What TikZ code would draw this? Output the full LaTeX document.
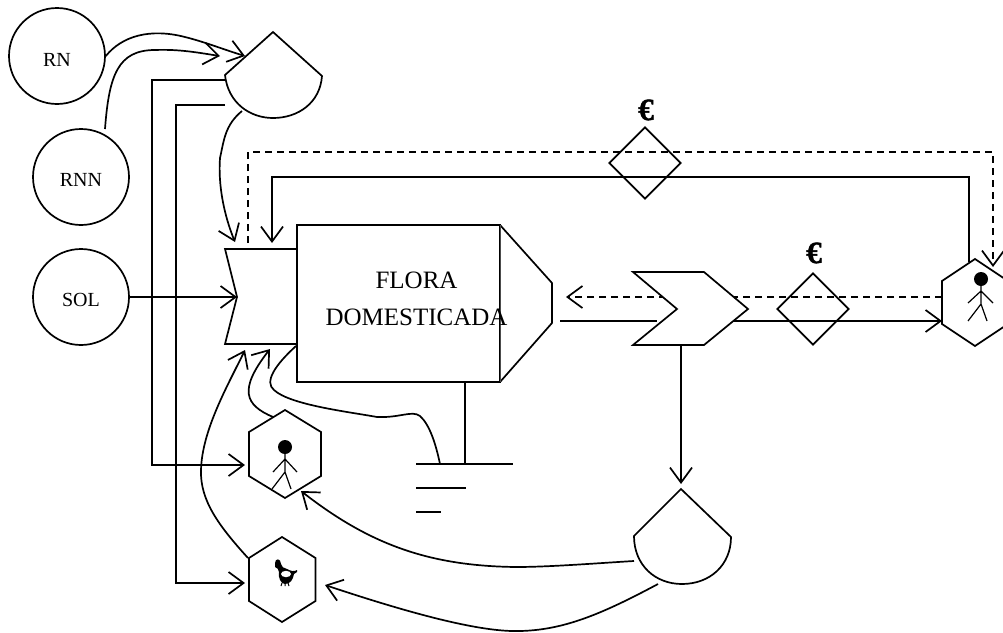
\documentclass[tikz,border=0pt]{standalone}
\usepackage{fontspec}
\setmainfont{Liberation Serif}
\newfontfamily\eurofont[FakeBold=1.2]{Liberation Serif Bold}
\usetikzlibrary{arrows.meta,shapes.geometric}
\tikzset{
  x=1pt,y=-1pt,
  every path/.style={line width=1.7pt,line join=miter},
  circ/.style={circle,draw,line width=1.7pt,minimum size=96pt,inner sep=0pt},
  lab/.style={font=\fontsize{20}{20}\selectfont,inner sep=0pt},
  big/.style={font=\fontsize{25}{25}\selectfont,inner sep=0pt},
  cash/.style={diamond,draw,line width=1.7pt,minimum size=72pt,inner sep=0pt,aspect=1},
  euro/.style={font=\fontsize{31}{31}\eurofont,inner sep=0pt},
  conn/.style={line width=1.7pt,-{Straight Barb[length=15pt,width=22pt,line width=1.7pt]}},
  plain/.style={line width=1.7pt},
  dconn/.style={conn,dash pattern=on 7pt off 5pt},
  stick/.style={line width=1.2pt}
}
\begin{document}
\begin{tikzpicture}
\useasboundingbox (0,0) rectangle (1003,632);
% sources
\node[circ] (rn) at (57,56) {};
\node[lab] (rnt) at (57,60) {RN};
\node[circ] (rnn) at (81,177) {};
\node[lab] (rnnt) at (81,180) {RNN};
\node[circ] (sol) at (81,297) {};
\node[lab] (solt) at (81,300) {SOL};
% anchors
\coordinate (dropA) at (245,56);
\coordinate (dropB) at (220,56);
\coordinate (dropL1) at (225,80);
\coordinate (dropL2) at (225,105);
\coordinate (dropOut) at (242,111);
\coordinate (inT1) at (235,242);
\coordinate (inT2) at (248,243);
\coordinate (inT3) at (272,243);
\coordinate (notch) at (237,297);
\coordinate (inB1) at (270,349);
\coordinate (inB2) at (245,350);
\coordinate (boxSW) at (296,346);
\coordinate (pLeft) at (245,465);
\coordinate (pTop) at (273,417);
\coordinate (pBR) at (301,491);
\coordinate (bLeft) at (245,583);
\coordinate (bTL) at (248,558);
\coordinate (bRight) at (325,585);
\coordinate (gndS) at (465,382);
\coordinate (gndE) at (465,464);
\coordinate (gndC) at (440,464);
\coordinate (hOutS) at (560,321);
\coordinate (chevIn) at (657,321);
\coordinate (chevOut) at (733,321);
\coordinate (hIn) at (566,297);
\coordinate (cRight) at (942,297);
\coordinate (cLeft) at (942,321);
\coordinate (cTop1) at (969,262);
\coordinate (cTop2) at (993,267);
\coordinate (chevS) at (681,345);
\coordinate (drop2T) at (681,484);
\coordinate (drop2L) at (634,561);
\coordinate (drop2B) at (658,584);
% connectors
\draw[conn] (rn.east) .. controls (122,36) and (150,28) .. (185,37) .. controls (205,42) and (225,50) .. (dropA);
\draw[conn] (105,129) .. controls (109,75) and (118,50) .. (155,50) .. controls (180,49) and (200,53) .. (dropB);
\draw[conn] (dropL1) -- (152,80) -- (152,465) -- (pLeft);
\draw[conn] (dropL2) -- (176,105) -- (176,583) -- (bLeft);
\draw[conn] (dropOut) .. controls (225,125) and (224,140) .. (220,158) .. controls (218,185) and (224,215) .. (inT1);
\draw[dconn] (inT2) -- (248,152) -- (993,152) -- (cTop2);
\draw[conn] (cTop1) -- (969,177) -- (272,177) -- (inT3);
\draw[conn] (sol.east) -- (notch);
\draw[conn] (pTop) .. controls (245,405) and (238,390) .. (inB1);
\draw[conn] (bTL) .. controls (218,525) and (200,500) .. (201,470) .. controls (202,430) and (228,385) .. (inB2);
\draw[plain] (boxSW) .. controls (275,365) and (264,382) .. (274,390) .. controls (290,405) and (350,412) .. (377,417) .. controls (400,418) and (412,410) .. (420,416) .. controls (430,425) and (436,445) .. (gndC);
\draw[plain] (gndS) -- (gndE);
\draw[plain] (416,464) -- (513,464);
\draw[plain] (416,488) -- (466,488);
\draw[plain] (416,512) -- (441,512);
\draw[dconn] (cRight) -- (hIn);
\draw[plain] (hOutS) -- (chevIn);
\draw[conn] (chevOut) -- (cLeft);
\draw[conn] (chevS) -- (drop2T);
\draw[conn] (drop2L) .. controls (600,563) and (550,567) .. (516,567) .. controls (430,566) and (370,545) .. (pBR);
\draw[conn] (drop2B) .. controls (600,615) and (560,632) .. (512,631) .. controls (470,630) and (400,610) .. (bRight);
% top drop
\draw (273,32) -- (225,75) .. controls (228,103) and (250,118) .. (273,118) .. controls (298,118) and (320,103) .. (322,76) -- cycle;
% bottom drop
\draw (681,489) -- (634,536) .. controls (634,565) and (655,584) .. (682,584) .. controls (710,584) and (731,565) .. (731,537) -- cycle;
% interaction + box + house
\draw (297,249) -- (225,249) -- (237,297) -- (225,344) -- (297,344);
\draw (500,225) -- (552,283) -- (552,323) -- (500,382);
\draw (297,225) rectangle (500,382);
\draw[line width=0.7pt,color=black!70] (500,225) -- (500,382);
\node[big] (flora) at (416.5,280) {FLORA};
\node[big] (domest) at (416.5,317) {DOMESTICADA};
% chevron
\draw[fill=white] (633,272) -- (704,272) -- (748,309) -- (704,345) -- (633,345) -- (677,309) -- cycle;
% diamonds
\node[cash] (d1) at (645,163) {};
\node[cash] (d2) at (813,309) {};
\node[euro] (e1) at (646,110) {€};
\node[euro] (e2) at (814,253) {€};
% person hexagon
\draw (285,410) -- (321,432) -- (321,476) -- (285,498) -- (249,476) -- (249,432) -- cycle;
\fill (285,447) circle (7);
\draw[stick] (285,453) -- (285,472) (273,472) -- (285,459) -- (297,472) (272,489) -- (285,472) -- (291,489);
% consumer hexagon right
\draw (975,259) -- (1008,281) -- (1008,324) -- (975,346) -- (942,324) -- (942,281) -- cycle;
\fill (981,279) circle (7);
\draw[stick] (981,286) -- (981,304) (968,303) -- (981,291) -- (993,303) (968,321) -- (981,304) -- (987,321);
% bird hexagon
\draw (282,537) -- (315.5,558) -- (315.5,601) -- (282,622) -- (249,601) -- (249,558) -- cycle;
\fill (275,563) .. controls (275,558) and (281,558) .. (281,564) .. controls (281,567) and (284,568) .. (287,569) .. controls (291,571) and (294,572) .. (297,570) -- (297,572) -- (294,574) .. controls (293,580) and (290,584) .. (285,584) .. controls (281,584) and (278,578) .. (279,572) .. controls (279,569) and (277,568) .. (275,567) -- cycle;
\fill[white] (286,574) ellipse (5 and 3.2);
\draw[line width=1pt] (282,583) -- (281,586) (285,583) -- (285,586) (288,583) -- (289,586);
\end{tikzpicture}
\end{document}
